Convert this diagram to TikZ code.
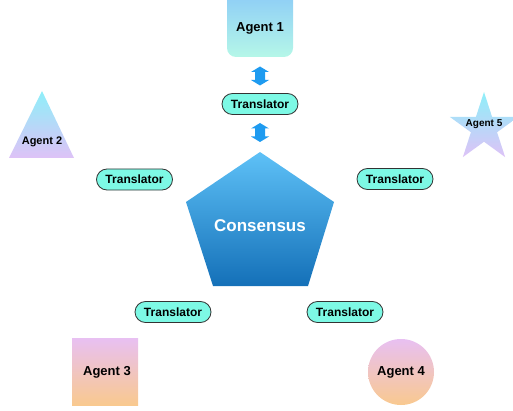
\documentclass[tikz,border=0pt]{standalone}
\usepackage{fontspec}
\setmainfont{Liberation Sans}
\usetikzlibrary{shapes.misc}
\definecolor{aOneTop}{HTML}{8CCBF7}
\definecolor{aOneBot}{HTML}{B5F7E8}
\definecolor{cyanTop}{HTML}{8EEFF9}
\definecolor{lavBot}{HTML}{DEC2F7}
\definecolor{lavTop}{HTML}{E8C0F2}
\definecolor{peachBot}{HTML}{F9C98F}
\definecolor{consTop}{HTML}{5EC1F7}
\definecolor{consBot}{HTML}{1470B8}
\definecolor{transFill}{HTML}{7DF9E5}
\definecolor{arrowBlue}{HTML}{1E9BF0}
\begin{document}
\begin{tikzpicture}[x=1pt,y=1pt,
  trans/.style={draw=black!80, line width=0.8pt, fill=transFill, rounded rectangle,
    minimum width=76pt, minimum height=21pt, inner sep=0pt,
    font=\bfseries\fontsize{12}{14}\selectfont},
  lbl/.style={inner sep=0pt, font=\bfseries\fontsize{13}{15}\selectfont},
  dblarrow/.style={fill=arrowBlue}
]
\useasboundingbox (0,0) rectangle (513,410);
\clip (0,0) rectangle (513,410);

% Agent 1
\shade[top color=aOneTop, bottom color=aOneBot, rounded corners=9pt]
  (227,353) rectangle (293,419);
\node[lbl] (a1) at (260,382) {Agent 1};

% Agent 2 (triangle)
\shade[top color=cyanTop, bottom color=lavBot] (42,319) -- (74,252) -- (9,252) -- cycle;
\node[lbl, font=\bfseries\fontsize{11}{13}\selectfont] (a2) at (42,268) {Agent 2};

% Agent 5 (star)
\shade[shift={(484,282)}, top color=cyanTop, bottom color=lavBot]
  (90:36pt) -- (126:13.75pt) -- (162:36pt) -- (198:13.75pt) -- (234:36pt) --
  (270:13.75pt) -- (306:36pt) -- (342:13.75pt) -- (18:36pt) -- (54:13.75pt) -- cycle;
\node[lbl, font=\bfseries\fontsize{10}{12}\selectfont] (a5) at (484,286) {Agent 5};

% Agent 3 (square)
\shade[top color=lavTop, bottom color=peachBot] (72,5) rectangle (138,72);
\node[lbl] (a3) at (107,38) {Agent 3};

% Agent 4 (circle)
\shade[top color=lavTop, bottom color=peachBot] (401,38) circle (33);
\node[lbl] (a4) at (401,38) {Agent 4};

% Consensus (pentagon)
\shade[top color=consTop, bottom color=consBot]
  (260,258) -- (334,208) -- (308,124) -- (213,124) -- (186,208) -- cycle;
\node[inner sep=0pt, text=white, font=\bfseries\fontsize{17}{19}\selectfont] (cons) at (260,184) {Consensus};

% Translators
\node[trans] (t1) at (260,306) {Translator};
\node[trans] (t2) at (134.5,230.5) {Translator};
\node[trans] (t5) at (395,231) {Translator};
\node[trans] (t3) at (173,98) {Translator};
\node[trans] (t4) at (345,98) {Translator};

% Double arrows
\foreach \cy in {334,277.5}{
  \fill[dblarrow, shift={(260,\cy)}]
    (0,9.5) -- (9,4) -- (5,4) -- (5,-4) -- (9,-4) -- (0,-9.5) -- (-9,-4) -- (-5,-4) -- (-5,4) -- (-9,4) -- cycle;
}
\end{tikzpicture}
\end{document}
